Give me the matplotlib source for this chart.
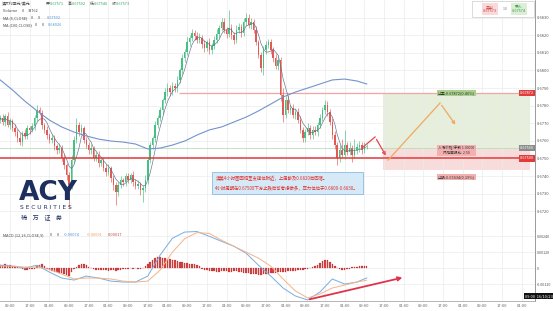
import matplotlib
matplotlib.use('Agg')
import matplotlib.pyplot as plt
import numpy as np
import pandas as pd
from matplotlib.patches import Rectangle

plt.rcParams['font.family'] = ['Noto Sans CJK SC', 'DejaVu Sans']

# hourly AUD/USD closes
closes = [
    0.67730, 0.67707, 0.67741, 0.67690, 0.67713, 0.67673, 0.67650, 0.67616, 0.67593, 0.67645,
    0.67628, 0.67673, 0.67662, 0.67684, 0.67730, 0.67775, 0.67758, 0.67690, 0.67662, 0.67633,
    0.67605, 0.67616, 0.67571, 0.67548, 0.67559, 0.67503, 0.67463, 0.67406, 0.67349, 0.67491,
    0.67605, 0.67690, 0.67650, 0.67673, 0.67605, 0.67576, 0.67548, 0.67559, 0.67503, 0.67520,
    0.67474, 0.67491, 0.67446, 0.67423, 0.67446, 0.67389, 0.67349, 0.67309, 0.67349, 0.67378,
    0.67366, 0.67400, 0.67378, 0.67406, 0.67366, 0.67344, 0.67355, 0.67321, 0.67332, 0.67378,
    0.67491, 0.67576, 0.67616, 0.67690, 0.67730, 0.67775, 0.67832, 0.67877, 0.67900, 0.67877,
    0.67912, 0.67900, 0.67946, 0.68002, 0.68071, 0.68105, 0.68161, 0.68184, 0.68213, 0.68196,
    0.68173, 0.68184, 0.68150, 0.68127, 0.68161, 0.68116, 0.68139, 0.68173, 0.68207, 0.68241,
    0.68275, 0.68230, 0.68207, 0.68241, 0.68201, 0.68173, 0.68230, 0.68247, 0.68213, 0.68275,
    0.68298, 0.68258, 0.68275, 0.68230, 0.68161, 0.68088, 0.68014, 0.68116, 0.68144, 0.68161,
    0.68116, 0.68071, 0.68025, 0.68059, 0.67860, 0.67747, 0.67832, 0.67775, 0.67787, 0.67747,
    0.67764, 0.67718, 0.67662, 0.67616, 0.67650, 0.67673, 0.67633, 0.67662, 0.67650, 0.67690,
    0.67730, 0.67775, 0.67804, 0.67764, 0.67707, 0.67633, 0.67576, 0.67503, 0.67548, 0.67520,
    0.67576, 0.67537, 0.67559, 0.67520, 0.67548, 0.67565, 0.67576, 0.67548, 0.67571, 0.67573,
]
first_open = 0.67720
# wick lengths in points (0.00001)
wick_up = [
    15, 20, 10, 25, 15, 10, 20, 15, 30, 10,
    20, 15, 10, 20, 15, 28, 20, 15, 10, 20,
    10, 25, 15, 10, 30, 15, 20, 10, 15, 30,
    20, 40, 15, 20, 10, 15, 20, 25, 10, 15,
    20, 10, 15, 20, 25, 10, 15, 20, 15, 25,
    10, 20, 15, 10, 20, 15, 25, 10, 20, 30,
    15, 20, 10, 25, 15, 20, 10, 25, 30, 15,
    20, 15, 25, 10, 20, 15, 30, 20, 25, 15,
    20, 30, 15, 20, 10, 25, 15, 20, 30, 15,
    25, 20, 15, 102, 20, 15, 30, 20, 15, 25,
    30, 20, 25, 15, 20, 10, 15, 20, 25, 15,
    20, 15, 25, 30, 15, 40, 20, 30, 15, 20,
    15, 20, 25, 15, 20, 30, 15, 20, 25, 15,
    20, 15, 30, 20, 15, 20, 25, 15, 30, 60,
    85, 20, 35, 15, 60, 20, 25, 15, 20, 10,
]
wick_dn = [
    20, 15, 25, 10, 20, 15, 25, 20, 15, 20,
    15, 20, 25, 10, 20, 15, 10, 20, 15, 25,
    20, 15, 25, 20, 15, 20, 25, 30, 130, 20,
    15, 20, 25, 15, 20, 15, 25, 20, 15, 20,
    25, 15, 20, 25, 15, 20, 30, 74, 20, 15,
    20, 25, 15, 20, 25, 15, 20, 30, 68, 20,
    25, 15, 20, 25, 15, 20, 25, 15, 20, 25,
    15, 20, 25, 15, 20, 25, 15, 20, 15, 25,
    20, 15, 25, 20, 15, 20, 25, 15, 20, 25,
    15, 20, 25, 15, 20, 25, 15, 20, 25, 15,
    20, 15, 25, 20, 15, 20, 25, 40, 20, 15,
    20, 25, 15, 20, 35, 40, 20, 15, 25, 20,
    25, 15, 20, 25, 20, 15, 25, 20, 15, 20,
    15, 20, 25, 20, 15, 25, 20, 40, 25, 20,
    25, 20, 15, 40, 20, 25, 30, 20, 15, 20,
]

ma100_idx = [0, 5, 10, 15, 20, 25, 30, 35, 40, 45, 50, 55, 60, 65, 70, 75, 80, 85,
             90, 95, 100, 105, 110, 115, 120, 125, 130, 135, 140, 145, 149]
ma100 = [0.67946, 0.67889, 0.67826, 0.67770, 0.67718, 0.67679, 0.67650, 0.67628, 0.67610,
         0.67599, 0.67593, 0.67582, 0.67554, 0.67559, 0.67576, 0.67599, 0.67633, 0.67662,
         0.67679, 0.67707, 0.67735, 0.67770, 0.67809, 0.67849, 0.67877, 0.67900, 0.67923,
         0.67946, 0.67951, 0.67940, 0.67923]

# MACD in units of 0.00001
macd_idx = ma100_idx
macd_line = [22, 15, 0, 22, -30, -75, -90, -60, -75, -98, -105, -105, -60, 98, 225, 272,
             276, 240, 202, 165, 112, 22, -60, -150, -210, -240, -180, -82, -120, -105, -74]
signal_line = [15, 15, 8, 8, -8, -45, -82, -75, -75, -82, -98, -105, -98, -15, 120, 222,
               268, 262, 210, 165, 120, 75, 15, -82, -172, -225, -195, -150, -128, -105, -91]
hist = [
    22, 22, 30, 22, 22, 15, 15, 8, 3, -8,
    -15, -15, -8, -8, -3, 15, 22, 30, 15, -8,
    -15, -22, -30, -30, -38, -38, -45, -52, -60, -30,
    -8, 8, 22, 30, 30, 22, 8, 3, -8, -15,
    -15, -15, -15, -15, -22, -15, -15, -22, -15, -15,
    -8, -8, -3, 3, -3, 3, -8, -3, 3, 15,
    30, 45, 60, 75, 82, 82, 75, 75, 68, 68,
    60, 60, 52, 45, 45, 38, 38, 30, 30, 30,
    22, 15, -8, -15, -15, -22, -22, -22, -30, -30,
    -22, -22, -22, -30, -30, -22, -22, -30, -30, -38,
    -38, -38, -45, -45, -45, -52, -52, -45, -45, -45,
    -38, -38, -38, -30, -30, -30, -30, -22, -22, -22,
    -22, -15, -15, -15, -8, -8, 3, 8, 15, 22,
    38, 52, 60, 60, 45, 30, 15, 3, -8, -15,
    -15, -8, -3, 8, 8, 8, 15, 15, 15, 17,
]

time_labels = ['09:00', '17:00', '01:00'] * 9
price_ticks = [0.6720, 0.6730, 0.6740, 0.6750, 0.6760, 0.6770, 0.6780, 0.6790,
               0.6800, 0.6810, 0.6820, 0.6830]

# trade plan drawn on the chart
support = 0.67500
last_price = 0.67560
target = 0.67872
stop = 0.67434
plan_x = [155.6, 215.4]
red_arrow_x = [147.5, 152.4, 157.3]
red_arrow_y = [0.67565, 0.67622, 0.67503]
orange_arrow_x = [157.7, 178.8, 185.7]
orange_arrow_y = [0.67491, 0.67815, 0.67679]
macd_arrow_x = [124.7, 164.6]
macd_arrow_y = [-0.00240, -0.00067]

W, H = 553, 311
fig = plt.figure(figsize=(W / 100, H / 100), dpi=100)
fig.patch.set_facecolor('white')
ax = fig.add_axes([0, 1 - 231 / H, 535 / W, 231 / H])
axm = fig.add_axes([0, 1 - 301 / H, 535 / W, 70 / H])

idx = np.arange(len(closes))
c = np.array(closes)
o = np.array([first_open] + closes[:-1])
hi = np.maximum(o, c) + np.array(wick_up) * 1e-5
lo = np.minimum(o, c) - np.array(wick_dn) * 1e-5
up = c >= o
cols = np.where(up, '#45bf82', '#e35a55')

xmax = 217.4
xticks = np.arange(4, 4 + 8 * len(time_labels), 8)

for a in (ax, axm):
    a.set_xlim(-0.07, xmax)
    a.set_xticks(xticks)
    a.grid(True, color='#ebebeb', lw=0.5)
    a.set_axisbelow(True)
    a.yaxis.tick_right()
    a.tick_params(length=0, labelsize=2.9, labelcolor='#555555', pad=1.5)
    for s in ('top', 'left'):
        a.spines[s].set_visible(False)
    a.spines['right'].set_color('#8a8a8a')
    a.spines['right'].set_linewidth(0.6)
    a.spines['bottom'].set_color('#aaaaaa')
    a.spines['bottom'].set_linewidth(0.6)
ax.set_xticklabels([])

ax.set_ylim(0.67088, 0.68400)
ax.set_yticks(price_ticks)
ax.set_yticklabels([f'{v:.4f}' for v in price_ticks])

# zones
ax.fill_between(plan_x, last_price, target, color='#e5efdb', lw=0, zorder=0.5)
ax.fill_between(plan_x, stop, last_price, color='#f8dcdc', lw=0, zorder=0.5)

# candles
ax.vlines(idx, lo, hi, colors=cols, lw=0.45, zorder=2)
ax.bar(idx, np.maximum(np.abs(c - o), 0.00002), bottom=np.minimum(o, c),
       width=0.62, color=cols, lw=0, zorder=2)

ma5 = pd.Series(closes).rolling(5, min_periods=1).mean()
ax.plot(idx, ma5, color='#5d6f8f', lw=0.45, zorder=3)
ax.plot(ma100_idx, ma100, color='#7394cc', lw=0.8, zorder=3)

ax.axhline(support, color='#e23a3a', lw=1.1, zorder=4)
ax.axhline(last_price, color='#b9dfb9', lw=0.6, zorder=1)
ax.hlines(target, 72.5, xmax, color='#f0a6a6', lw=0.9, zorder=1)

ax.plot(red_arrow_x[:2], red_arrow_y[:2], color='#e8464a', lw=0.9, zorder=5)
ax.annotate('', xy=(red_arrow_x[2], red_arrow_y[2]), xytext=(red_arrow_x[1], red_arrow_y[1]),
            arrowprops=dict(arrowstyle='->', color='#e8464a', lw=0.9, mutation_scale=5), zorder=5)
ax.plot(orange_arrow_x[:2], orange_arrow_y[:2], color='#f0a860', lw=0.9, zorder=5)
ax.annotate('', xy=(orange_arrow_x[2], orange_arrow_y[2]), xytext=(orange_arrow_x[1], orange_arrow_y[1]),
            arrowprops=dict(arrowstyle='->', color='#f0a860', lw=0.9, mutation_scale=5), zorder=5)

# plan labels
mid = (plan_x[0] + plan_x[1]) / 2
ax.text(mid, target, '止盈:0.67872(0.46%)', fontsize=2.8, ha='center', va='center', color='#333333',
        bbox=dict(boxstyle='square,pad=0.25', fc='#a9d08e', ec='none'), zorder=6)
ax.text(mid, 0.67545, '入场价格/手数 1.00000\n风险回报比: 2.50', fontsize=2.6, ha='center', va='center',
        color='#333333', linespacing=1.1,
        bbox=dict(boxstyle='square,pad=0.25', fc='#f2b0b0', ec='none'), zorder=6)
ax.text(mid, 0.67395, '止损:0.67434(0.19%)', fontsize=2.8, ha='center', va='center', color='#333333',
        bbox=dict(boxstyle='square,pad=0.25', fc='#f2b0b0', ec='none'), zorder=6)

# right-edge price tags
for val, fc in ((target, '#e03c3c'), (last_price, '#8c8c8c'), (support, '#e03c3c')):
    ax.text(xmax - 0.4, val, f'{val:.5f}', fontsize=2.8, ha='right', va='center', color='white',
            bbox=dict(boxstyle='square,pad=0.3', fc=fc, ec='none'), zorder=7)

# comment box
ax.add_patch(Rectangle((86.1, 0.67298), 61.4, 0.00125, fc='#d5e9f7', ec='#86bde4', lw=0.6, zorder=6))
ax.text(87.5, 0.67389, '澳美4小时图回调至支撑位附近，上周触及0.6820后回落。', fontsize=3.2,
        color='#e0302f', va='center', zorder=7)
ax.text(87.5, 0.67326, '4小时周期在0.67500下方止跌后可考虑做多，压力位位于0.6800-0.6830。', fontsize=3.2,
        color='#e0302f', va='center', zorder=7)

# logo
ax.text(7.8, 0.67302, 'ACY', fontsize=19, fontweight='heavy', color='#1d2f5f', va='center',
        family='DejaVu Sans', zorder=6)
ax.text(8.0, 0.67219, 'S E C U R I T I E S', fontsize=4.3, color='#1d2f5f', va='center',
        family='DejaVu Sans', zorder=6)
ax.text(8.4, 0.67167, '稀    万    证    券', fontsize=4.4, color='#1d2f5f', va='center', zorder=6)

# MACD panel
axm.set_ylim(-0.00248, 0.00280)
axm.set_yticks([-0.0012, 0, 0.0012, 0.0024])
axm.set_yticklabels(['-0.00120', '0', '0.00120', '0.00240'])
axm.tick_params(axis='y', labelsize=2.7, pad=1)
axm.set_xticklabels(time_labels, fontsize=3.0, color='#666666')
axm.tick_params(axis='x', pad=2.5)
h = np.array(hist) * 1e-5
axm.bar(idx, h, width=0.62, color='#d84343', edgecolor='#9e2020', lw=0.15, zorder=2)
axm.plot(macd_idx, np.array(macd_line) * 1e-5, color='#78aee0', lw=0.7, zorder=3)
axm.plot(macd_idx, np.array(signal_line) * 1e-5, color='#f4b38a', lw=0.7, zorder=3)
axm.annotate('', xy=(macd_arrow_x[1], macd_arrow_y[1]), xytext=(macd_arrow_x[0], macd_arrow_y[0]),
             arrowprops=dict(arrowstyle='->', color='#e0334a', lw=1.3, mutation_scale=6), zorder=5)

# header lines
def row(y, parts):
    for x, s, col in parts:
        fig.text(x / W, 1 - y / H, s, fontsize=2.8, color=col, va='center')

green, blue, grey = '#2ea85a', '#4a8fd6', '#444444'
row(4, [(2, '澳大利亚元/美元', grey), (46, '开', grey), (50, '0.67571', green), (68, '高', grey),
        (72, '0.67592', green), (90, '低', grey), (94, '0.67540', green), (112, '收', grey),
        (116, '0.67573', green)])
row(11, [(3, 'Volume', grey), (22, '0', grey), (28, '38762', grey)])
row(18, [(3, 'MA (5,CLOSE)', grey), (31, '0', grey), (38, '0', grey), (47, '0.67592', blue)])
row(25, [(3, 'MA (100,CLOSE)', grey), (35, '0', grey), (42, '0', grey), (48, '0.68026', blue)])
row(235, [(3, 'MACD (12,26,CLOSE,9)', grey), (50, '0', grey), (57, '0', grey),
          (64, '-0.00074', '#4a8fd6'), (87, '-0.00091', '#f09a5a'), (108, '0.00017', '#c04040')])

# bid/ask box top right
fig.patches.append(Rectangle((472 / W, 1 - 17 / H), 62 / W, 16 / H, transform=fig.transFigure,
                             fc='white', ec='#cccccc', lw=0.5))
fig.text(490 / W, 1 - 9 / H, '卖出\n0.67573', fontsize=2.8, ha='center', va='center', color='#d04040',
         linespacing=1.1, bbox=dict(boxstyle='square,pad=0.35', fc='#f9d9d9', ec='none'))
fig.text(505 / W, 1 - 9 / H, '1.0', fontsize=2.6, ha='center', va='center', color='#777777')
fig.text(519 / W, 1 - 9 / H, '买入\n0.67574', fontsize=2.8, ha='center', va='center', color='#3a9a4a',
         linespacing=1.1, bbox=dict(boxstyle='square,pad=0.35', fc='#dcefd6', ec='none'))

fig.text(0.999, 1 - 296 / H, '09:00  16/10/23', fontsize=2.8, ha='right', va='center', color='white',
         bbox=dict(boxstyle='square,pad=0.3', fc='#111111', ec='none'))

fig.savefig('out.png', dpi=100)
